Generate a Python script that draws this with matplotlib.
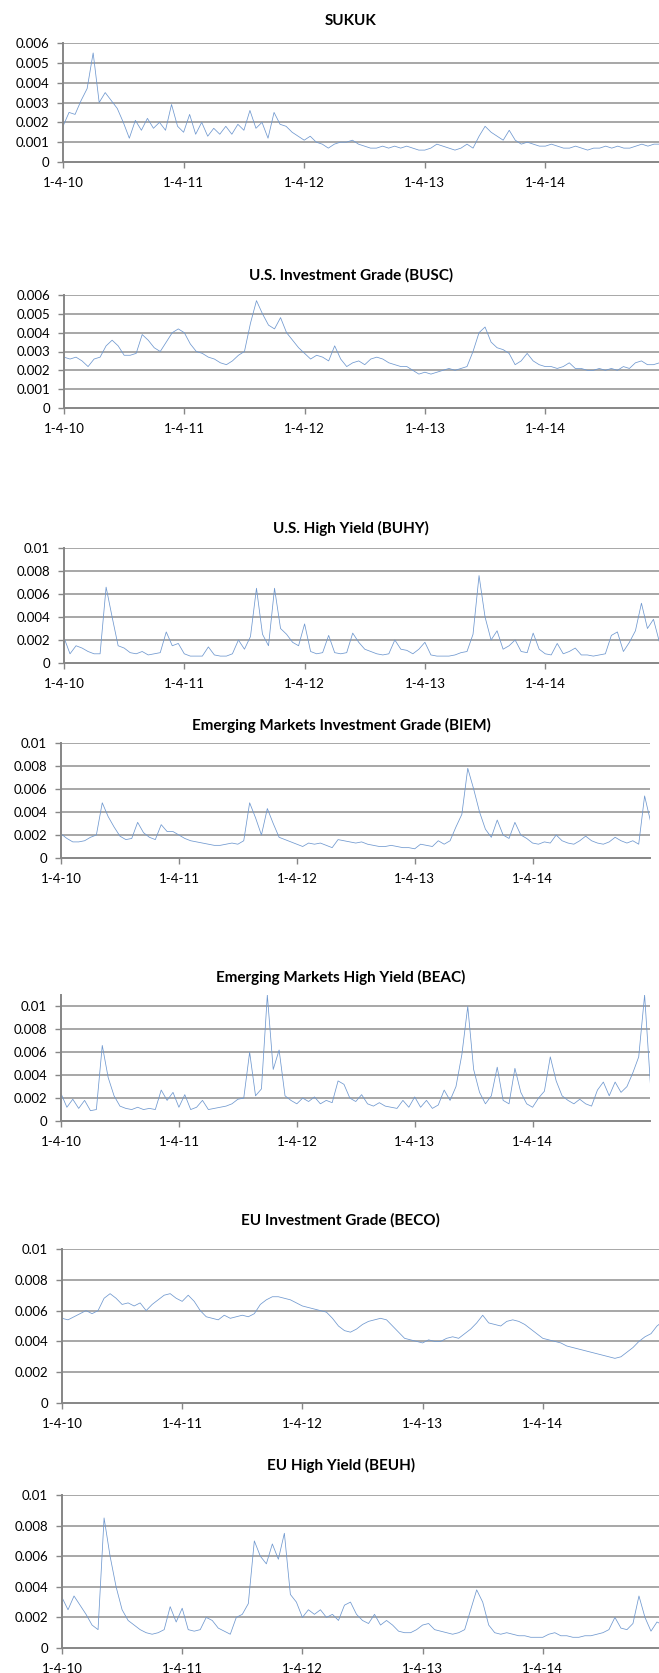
import numpy as np
import matplotlib.pyplot as plt

plt.rcParams['font.family'] = ['Lato', 'DejaVu Sans']

# sample dates, in years after 1-4-10 (about every 2.5 weeks)
t = np.linspace(0, 5, 101)

year_labels = ['1-4-10', '1-4-11', '1-4-12', '1-4-13', '1-4-14']

sukuk = [0.0018, 0.0025, 0.0024, 0.0031, 0.0037, 0.0055, 0.0030, 0.0035, 0.0031, 0.0027,
         0.0020, 0.0012, 0.0021, 0.0016, 0.0022, 0.0017, 0.0020, 0.0016, 0.0029, 0.0018,
         0.0015, 0.0024, 0.0014, 0.0020, 0.0013, 0.0017, 0.0014, 0.0018, 0.0014, 0.0019,
         0.0016, 0.0026, 0.0017, 0.0020, 0.0012, 0.0025, 0.0019, 0.0018, 0.0015, 0.0013,
         0.0011, 0.0013, 0.0010, 0.0009, 0.0007, 0.0009, 0.0010, 0.0010, 0.0011, 0.0009,
         0.0008, 0.0007, 0.0007, 0.0008, 0.0007, 0.0008, 0.0007, 0.0008, 0.0007, 0.0006,
         0.0006, 0.0007, 0.0009, 0.0008, 0.0007, 0.0006, 0.0007, 0.0009, 0.0007, 0.0013,
         0.0018, 0.0015, 0.0013, 0.0011, 0.0016, 0.0011, 0.0009, 0.0010, 0.0009, 0.0008,
         0.0008, 0.0009, 0.0008, 0.0007, 0.0007, 0.0008, 0.0007, 0.0006, 0.0007, 0.0007,
         0.0008, 0.0007, 0.0008, 0.0007, 0.0007, 0.0008, 0.0009, 0.0008, 0.0009, 0.0009,
         0.0010]

busc = [0.0027, 0.0026, 0.0027, 0.0025, 0.0022, 0.0026, 0.0027, 0.0033, 0.0036, 0.0033,
        0.0028, 0.0028, 0.0029, 0.0039, 0.0036, 0.0032, 0.0030, 0.0035, 0.0040, 0.0042,
        0.0040, 0.0034, 0.0030, 0.0029, 0.0027, 0.0026, 0.0024, 0.0023, 0.0025, 0.0028,
        0.0030, 0.0045, 0.0057, 0.0050, 0.0044, 0.0042, 0.0048, 0.0040, 0.0036, 0.0032,
        0.0029, 0.0026, 0.0028, 0.0027, 0.0025, 0.0033, 0.0026, 0.0022, 0.0024, 0.0025,
        0.0023, 0.0026, 0.0027, 0.0026, 0.0024, 0.0023, 0.0022, 0.0022, 0.0020, 0.0018,
        0.0019, 0.0018, 0.0019, 0.0020, 0.0021, 0.0020, 0.0021, 0.0022, 0.0030, 0.0040,
        0.0043, 0.0035, 0.0032, 0.0031, 0.0029, 0.0023, 0.0025, 0.0029, 0.0025, 0.0023,
        0.0022, 0.0022, 0.0021, 0.0022, 0.0024, 0.0021, 0.0021, 0.0020, 0.0020, 0.0021,
        0.0020, 0.0021, 0.0020, 0.0022, 0.0021, 0.0024, 0.0025, 0.0023, 0.0023, 0.0024,
        0.0024]

buhy = [0.0022, 0.0008, 0.0015, 0.0013, 0.0010, 0.0008, 0.0008, 0.0066, 0.0040, 0.0015,
        0.0013, 0.0009, 0.0008, 0.0010, 0.0007, 0.0008, 0.0009, 0.0027, 0.0015, 0.0017,
        0.0008, 0.0006, 0.0006, 0.0006, 0.0014, 0.0007, 0.0006, 0.0006, 0.0008, 0.0020,
        0.0012, 0.0023, 0.0065, 0.0025, 0.0015, 0.0065, 0.0030, 0.0025, 0.0018, 0.0015,
        0.0034, 0.0010, 0.0008, 0.0009, 0.0024, 0.0009, 0.0008, 0.0009, 0.0026, 0.0018,
        0.0012, 0.0010, 0.0008, 0.0007, 0.0008, 0.0020, 0.0012, 0.0011, 0.0008, 0.0012,
        0.0018, 0.0007, 0.0006, 0.0006, 0.0006, 0.0007, 0.0009, 0.0010, 0.0025, 0.0076,
        0.0040, 0.0020, 0.0028, 0.0012, 0.0015, 0.0020, 0.0010, 0.0009, 0.0026, 0.0012,
        0.0008, 0.0007, 0.0017, 0.0008, 0.0010, 0.0013, 0.0007, 0.0007, 0.0006, 0.0007,
        0.0008, 0.0024, 0.0027, 0.0010, 0.0018, 0.0028, 0.0052, 0.0030, 0.0038, 0.0018,
        0.0020]

biem = [0.0021, 0.0017, 0.0014, 0.0014, 0.0015, 0.0018, 0.0020, 0.0048, 0.0036, 0.0027,
        0.0019, 0.0016, 0.0017, 0.0031, 0.0022, 0.0018, 0.0016, 0.0029, 0.0023, 0.0023,
        0.0020, 0.0017, 0.0015, 0.0014, 0.0013, 0.0012, 0.0011, 0.0011, 0.0012, 0.0013,
        0.0012, 0.0015, 0.0048, 0.0035, 0.0020, 0.0043, 0.0030, 0.0018, 0.0016, 0.0014,
        0.0012, 0.0010, 0.0013, 0.0012, 0.0013, 0.0011, 0.0009, 0.0016, 0.0015, 0.0014,
        0.0013, 0.0014, 0.0012, 0.0011, 0.0010, 0.0010, 0.0011, 0.0010, 0.0009, 0.0009,
        0.0008, 0.0012, 0.0011, 0.0010, 0.0015, 0.0012, 0.0015, 0.0027, 0.0038, 0.0078,
        0.0060, 0.0040, 0.0025, 0.0018, 0.0033, 0.0020, 0.0017, 0.0031, 0.0020, 0.0017,
        0.0013, 0.0012, 0.0014, 0.0013, 0.0020, 0.0015, 0.0013, 0.0012, 0.0015, 0.0019,
        0.0015, 0.0013, 0.0012, 0.0014, 0.0018, 0.0015, 0.0013, 0.0015, 0.0012, 0.0054,
        0.0032]

beac = [0.0024, 0.0012, 0.0019, 0.0011, 0.0018, 0.0009, 0.0010, 0.0066, 0.0038, 0.0022,
        0.0013, 0.0011, 0.0010, 0.0012, 0.0010, 0.0011, 0.0010, 0.0027, 0.0018, 0.0025,
        0.0012, 0.0023, 0.0010, 0.0012, 0.0018, 0.0010, 0.0011, 0.0012, 0.0013, 0.0015,
        0.0019, 0.0020, 0.0060, 0.0022, 0.0028, 0.0110, 0.0045, 0.0062, 0.0022, 0.0018,
        0.0015, 0.0020, 0.0017, 0.0021, 0.0015, 0.0018, 0.0016, 0.0035, 0.0032, 0.0020,
        0.0017, 0.0023, 0.0015, 0.0013, 0.0016, 0.0013, 0.0012, 0.0011, 0.0018, 0.0012,
        0.0021, 0.0012, 0.0018, 0.0011, 0.0014, 0.0027, 0.0018, 0.0030, 0.0058, 0.0100,
        0.0045, 0.0025, 0.0015, 0.0022, 0.0047, 0.0018, 0.0015, 0.0046, 0.0025, 0.0015,
        0.0012, 0.0020, 0.0026, 0.0056, 0.0035, 0.0022, 0.0018, 0.0015, 0.0019, 0.0015,
        0.0013, 0.0027, 0.0034, 0.0022, 0.0034, 0.0025, 0.0030, 0.0042, 0.0056, 0.0110,
        0.0031]

beco = [0.0055, 0.0054, 0.0056, 0.0058, 0.0060, 0.0058, 0.0060, 0.0068, 0.0071, 0.0068,
        0.0064, 0.0065, 0.0063, 0.0065, 0.0060, 0.0064, 0.0067, 0.0070, 0.0071, 0.0068,
        0.0066, 0.0070, 0.0066, 0.0060, 0.0056, 0.0055, 0.0054, 0.0057, 0.0055, 0.0056,
        0.0057, 0.0056, 0.0058, 0.0064, 0.0067, 0.0069, 0.0069, 0.0068, 0.0067, 0.0065,
        0.0063, 0.0062, 0.0061, 0.0060, 0.0059, 0.0055, 0.0050, 0.0047, 0.0046, 0.0048,
        0.0051, 0.0053, 0.0054, 0.0055, 0.0054, 0.0050, 0.0046, 0.0042, 0.0041, 0.0040,
        0.0039, 0.0041, 0.0040, 0.0040, 0.0042, 0.0043, 0.0042, 0.0045, 0.0048, 0.0052,
        0.0057, 0.0052, 0.0051, 0.0050, 0.0053, 0.0054, 0.0053, 0.0051, 0.0048, 0.0045,
        0.0042, 0.0041, 0.0040, 0.0039, 0.0037, 0.0036, 0.0035, 0.0034, 0.0033, 0.0032,
        0.0031, 0.0030, 0.0029, 0.0030, 0.0033, 0.0036, 0.0040, 0.0043, 0.0045, 0.0050,
        0.0053]

beuh = [0.0033, 0.0025, 0.0034, 0.0028, 0.0022, 0.0015, 0.0012, 0.0085, 0.0060, 0.0040,
        0.0025, 0.0018, 0.0015, 0.0012, 0.0010, 0.0009, 0.0010, 0.0012, 0.0027, 0.0017,
        0.0026, 0.0012, 0.0011, 0.0012, 0.0020, 0.0018, 0.0013, 0.0011, 0.0009, 0.0020,
        0.0022, 0.0029, 0.0070, 0.0060, 0.0055, 0.0068, 0.0058, 0.0075, 0.0035, 0.0030,
        0.0020, 0.0025, 0.0022, 0.0025, 0.0020, 0.0022, 0.0018, 0.0028, 0.0030, 0.0022,
        0.0018, 0.0016, 0.0022, 0.0015, 0.0018, 0.0015, 0.0011, 0.0010, 0.0010, 0.0012,
        0.0015, 0.0016, 0.0012, 0.0011, 0.0010, 0.0009, 0.0010, 0.0012, 0.0025, 0.0038,
        0.0030, 0.0015, 0.0010, 0.0009, 0.0010, 0.0009, 0.0008, 0.0008, 0.0007, 0.0007,
        0.0007, 0.0009, 0.0010, 0.0008, 0.0008, 0.0007, 0.0007, 0.0008, 0.0008, 0.0009,
        0.0010, 0.0012, 0.0020, 0.0013, 0.0012, 0.0016, 0.0034, 0.0020, 0.0011, 0.0017,
        0.0015]

titles = ['SUKUK', 'U.S. Investment Grade (BUSC)', 'U.S. High Yield (BUHY)',
          'Emerging Markets Investment Grade (BIEM)', 'Emerging Markets High Yield (BEAC)',
          'EU Investment Grade (BECO)', 'EU High Yield (BEUH)']
series = [sukuk, busc, buhy, biem, beac, beco, beuh]
y_max = [0.006, 0.006, 0.01, 0.01, 0.011, 0.01, 0.01]
y_step = [0.001, 0.001, 0.002, 0.002, 0.002, 0.002, 0.002]

# layout in pixels: left, right, top, bottom of plot area, px per year, title x, title y
W, H = 659, 1673
layout = [
    (63, 659, 43, 162, 120.6, 351, 21),
    (64, 659, 295, 408, 120.3, 351, 275),
    (64, 659, 548, 663, 120.3, 351, 528),
    (61, 650, 743, 858, 117.9, 341, 725),
    (61, 650, 995, 1121, 117.9, 341, 977),
    (62, 659, 1249, 1403, 120.2, 340, 1220),
    (62, 659, 1495, 1648, 120.2, 341, 1465),
]

axis_grey = '#868686'
grid_grey = '#8f8f8f'
line_blue = '#6f98cf'

fig = plt.figure(figsize=(W / 100, H / 100), dpi=100)

for name, vals, ymax, ystep, (l, r, top, bot, ppy, tx, ty) in zip(
        titles, series, y_max, y_step, layout):
    ax = fig.add_axes([l / W, 1 - bot / H, (r - l) / W, (bot - top) / H])
    ax.plot(t, vals, color=line_blue, lw=0.55)
    ax.set_xlim(0, (r - l) / ppy)
    ax.set_ylim(0, ymax)

    yt = np.arange(0, ymax + 1e-9, ystep)
    ax.set_yticks(yt)
    ax.set_yticklabels(['0'] + ['%g' % v for v in yt[1:]])
    ax.set_xticks(range(len(year_labels)))
    ax.set_xticklabels(year_labels)

    for v in yt[1:]:
        ax.axhline(v, color=grid_grey, lw=1.1, zorder=0)

    for s in ['top', 'right']:
        ax.spines[s].set_visible(False)
    for s in ['left', 'bottom']:
        ax.spines[s].set_color(axis_grey)
        ax.spines[s].set_linewidth(1.4)
    ax.tick_params(axis='y', color=axis_grey, length=4, width=1, labelsize=9.5, pad=6)
    ax.tick_params(axis='x', color=axis_grey, length=4, width=1, labelsize=9.5, pad=7)

    fig.text(tx / W, 1 - ty / H, name, ha='center', va='center',
             fontsize=11, fontweight='bold')

fig.savefig('out.png', dpi=100)
